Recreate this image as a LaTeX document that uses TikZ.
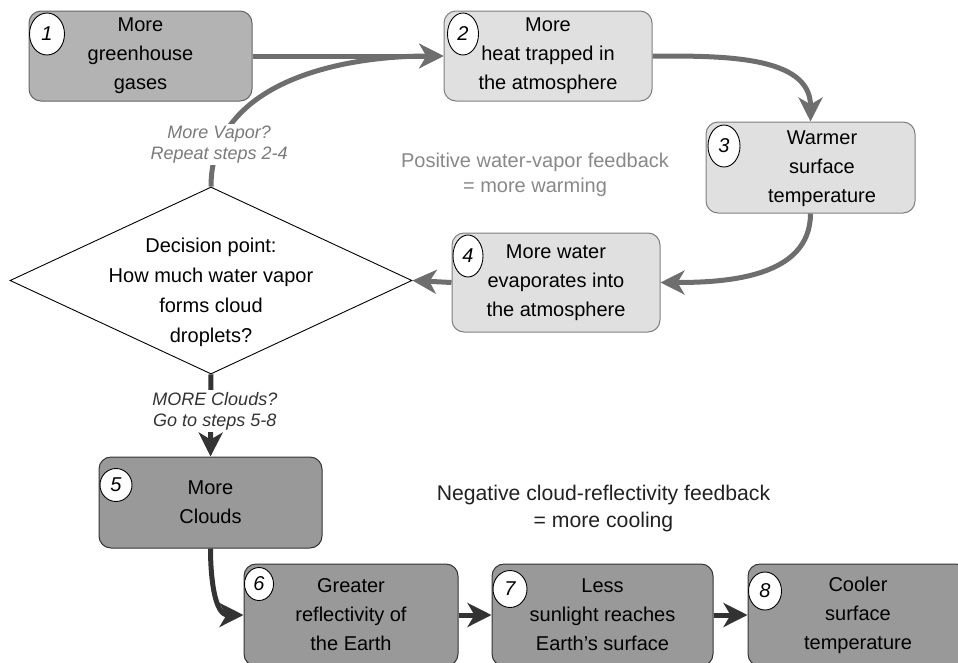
\documentclass[tikz,border=0pt]{standalone}
\usepackage{fontspec}
\setmainfont{Liberation Sans}
\usetikzlibrary{shapes.geometric,arrows.meta}
\definecolor{arrowgray}{HTML}{6E6E6E}
\definecolor{arrowdark}{HTML}{333333}
\definecolor{lightfill}{HTML}{E0E0E0}
\definecolor{lightborder}{HTML}{7F7F7F}
\definecolor{midfill}{HTML}{B3B3B3}
\definecolor{midborder}{HTML}{666666}
\definecolor{darkfill}{HTML}{999999}
\definecolor{darkborder}{HTML}{333333}
\definecolor{textgray}{HTML}{888888}
\definecolor{labelgray}{HTML}{7A7A7A}
\definecolor{labeldark}{HTML}{333333}
\begin{document}
\begin{tikzpicture}[x=1pt,y=-1pt,
  box/.style={draw, rounded corners=12pt, line width=1pt, inner sep=0pt, align=center,
    font=\fontsize{20}{29}\selectfont},
  lightbox/.style={box, fill=lightfill, draw=lightborder},
  midbox/.style={box, fill=midfill, draw=midborder},
  darkbox/.style={box, fill=darkfill, draw=darkborder},
  num/.style={ellipse, draw=black, fill=white, line width=0.9pt, inner sep=0pt,
    font=\fontsize{20}{20}\selectfont\itshape},
  garrow/.style={draw=arrowgray, line width=5pt, -{Stealth[length=24pt,width=24pt,inset=7pt]}},
  darrow/.style={draw=arrowdark, line width=5pt, -{Stealth[length=24pt,width=24pt,inset=7pt]}},
  lbl/.style={fill=white, align=center, inner sep=2pt, font=\fontsize{18}{21}\selectfont\itshape},
  plain/.style={align=center, inner sep=0pt}
]
\useasboundingbox (0,0) rectangle (958,662);
\clip (0,0) rectangle (958,662);

% boxes
\node[midbox, minimum width=223pt, minimum height=90pt] (b1) at (140.5,56) {More\\greenhouse\\gases};
\node[lightbox, minimum width=208pt, minimum height=90pt] (b2) at (548,56) {More\\heat trapped in\\the atmosphere};
\node[lightbox, minimum width=209pt, minimum height=91pt] (b3) at (810.5,167.5) {};
\node[plain, font=\fontsize{20}{29}\selectfont] (t3) at (822,169) {Warmer\\surface\\temperature};
\node[lightbox, minimum width=208pt, minimum height=99pt] (b4) at (556,282.5) {More water\\evaporates into\\the atmosphere};
\node[diamond, draw=black, line width=0.9pt, fill=white, inner sep=0pt,
  minimum width=402pt, minimum height=187pt] (d) at (211,280.5) {};
\node[plain, font=\fontsize{20}{30}\selectfont] (td) at (211,292.5) {Decision point:\\How much water vapor\\forms cloud\\droplets?};
\node[darkbox, minimum width=223pt, minimum height=91pt] (b5) at (210.5,502.5) {More\\Clouds};
\node[darkbox, minimum width=214pt, minimum height=102pt] (b6) at (351,615) {Greater\\reflectivity of\\the Earth};
\node[darkbox, minimum width=221pt, minimum height=102pt] (b7) at (602.5,615) {Less\\sunlight reaches\\Earth’s surface};
\node[darkbox, minimum width=220pt, minimum height=102pt] (b8) at (858,615) {Cooler\\surface\\temperature};

% number ellipses
\node[num, minimum width=35pt, minimum height=42pt] (c1) at (47,34) {1};
\node[num, minimum width=31pt, minimum height=42pt] (c2) at (463,34) {2};
\node[num, minimum width=32pt, minimum height=42pt] (c3) at (724,146) {3};
\node[num, minimum width=30pt, minimum height=42pt] (c4) at (468,256) {4};
\node[num, minimum width=32pt, minimum height=33pt] (c5) at (116,485) {5};
\node[num, minimum width=29pt, minimum height=33pt] (c6) at (259,584) {6};
\node[num, minimum width=34pt, minimum height=37pt] (c7) at (510,589) {7};
\node[num, minimum width=33pt, minimum height=38pt] (c8) at (765,591) {8};

% free texts
\node[plain, text=textgray, font=\fontsize{20}{25}\selectfont] (pos) at (535,175) {Positive water-vapor feedback\\= more warming};
\node[plain, text=black!87, font=\fontsize{21.2}{27}\selectfont] (neg) at (603.5,508.5) {Negative cloud-reflectivity feedback\\= more cooling};

% connectors
\draw[garrow] (b1.east) -- (b2.west);
\draw[garrow] (d.north) to[out=90,in=180] node[pos=0.15, lbl, text=labelgray] (lv) {More Vapor?\\Repeat steps 2-4} (b2.west);
\draw[garrow] (b2.east) to[out=0,in=90] (b3.north);
\draw[garrow] (b3.south) to[out=-90,in=0] (b4.east);
\draw[garrow] (b4.west) -- (d.east);
\draw[darrow] (d.south) -- node[pos=0.45, lbl, text=labeldark, xshift=4pt] (lc) {MORE Clouds?\\Go to steps 5-8} (b5.north);
\draw[darrow] (b5.south) to[out=-90,in=180] (b6.west);
\draw[darrow] (b6.east) -- (b7.west);
\draw[darrow] (b7.east) -- (b8.west);
\end{tikzpicture}
\end{document}
